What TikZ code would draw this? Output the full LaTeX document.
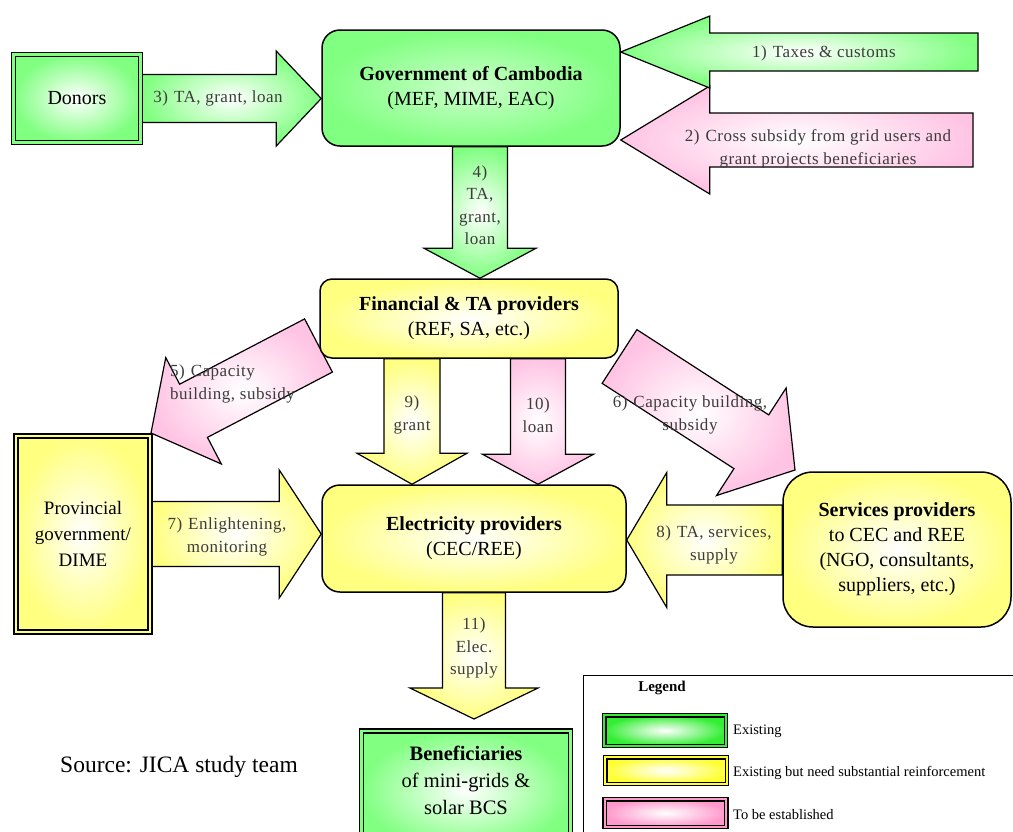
\documentclass[tikz,border=0pt]{standalone}
\usepackage{fontspec}
\setmainfont{Liberation Serif}
\usetikzlibrary{calc}

\definecolor{gEdge}{HTML}{80FF80}
\definecolor{yEdge}{HTML}{FFFF80}
\definecolor{pEdge}{HTML}{FFC4E4}
\definecolor{lgG}{HTML}{33EE33}
\definecolor{lgY}{HTML}{FFFF33}
\definecolor{lgP}{HTML}{FF99CC}
\definecolor{lblgray}{HTML}{3C3C3C}

\pgfdeclarelayer{bg}
\pgfsetlayers{bg,main}

% block arrow: #1 style, #2 tail centre, #3 tip, #4 half shaft width,
% #5 half head width, #6 head length
\newcommand\blockarrow[6]{%
  \coordinate (ba-h) at ($#3!#6!#2$);
  \path[#1] ($#2!#4!90:#3$) -- ($(ba-h)!#4!90:#3$) -- ($(ba-h)!#5!90:#3$)
    -- #3 -- ($(ba-h)!#5!-90:#3$) -- ($(ba-h)!#4!-90:#3$)
    -- ($#2!#4!-90:#3$) -- cycle;}

\begin{document}
\begin{tikzpicture}[x=1pt,y=-1pt,
  rbox/.style={draw=black, line width=1.5, align=center, inner sep=0,
    font=\fontsize{20}{25}\selectfont},
  dbox/.style={draw=black, line width=1.6, double distance=2.4, align=center,
    inner sep=0, font=\fontsize{20}{25}\selectfont},
  lbl/.style={align=center, inner sep=0, text=lblgray,
    font=\fontsize{17}{22.5}\selectfont\addfontfeature{LetterSpace=3}},
  garr/.style={draw=black, line width=1.2, inner color=white, outer color=gEdge},
  yarr/.style={draw=black, line width=1.2, inner color=white, outer color=yEdge},
  parr/.style={draw=black, line width=1.2, inner color=white, outer color=pEdge},
  sw/.style={draw=black, line width=1.3, double distance=2, minimum width=121.6,
    inner sep=0, inner color=white},
  lgtxt/.style={anchor=west, inner sep=0, font=\fontsize{14.5}{16}\selectfont}]

\useasboundingbox (0,0) rectangle (1013,831);

% ---- organisations ----
\node[rbox, rounded corners=18, minimum width=298, minimum height=116,
  inner color=gEdge!40!white, outer color=gEdge] (gov) at (471,88)
  {\textbf{Government of Cambodia}\\(MEF, MIME, EAC)};
\node[dbox, double=gEdge, minimum width=127, minimum height=88,
  inner color=white, outer color=gEdge] (donors) at (77,98.5) {Donors};
\node[rbox, rounded corners=12, minimum width=298, minimum height=79,
  inner color=white, outer color=yEdge] (fin) at (469,318.5)
  {\textbf{Financial \& TA providers}\\(REF, SA, etc.)};
\node[rbox, rounded corners=18, minimum width=304, minimum height=107,
  inner color=white, outer color=yEdge] (elec) at (474,538.5)
  {\textbf{Electricity providers}\\(CEC/REE)};
\node[rbox, rounded corners=30, minimum width=228, minimum height=155,
  inner color=white, outer color=yEdge] (serv) at (897,549.5)
  {\textbf{Services providers}\\to CEC and REE\\(NGO, consultants,\\suppliers, etc.)};
\node[dbox, double=yEdge, minimum width=134.5, minimum height=196.5,
  inner color=white, outer color=yEdge, font=\fontsize{19}{26}\selectfont]
  (prov) at (83,534) {Provincial\\government/\\DIME};
\node[dbox, double=gEdge, minimum width=209, minimum height=120,
  inner color=white, outer color=gEdge] (ben) at (466,790.75) {};
\node[align=center, inner sep=0, font=\fontsize{20.5}{27}\selectfont]
  (benT) at (466,780) {\textbf{Beneficiaries}\\of mini-grids \&\\solar BCS};

% ---- flows ----
\begin{pgfonlayer}{bg}
  \coordinate (a2s) at (973,140);
  \coordinate (a2e) at (gov.east |- a2s);
  \blockarrow{parr}{(a2s)}{(a2e)}{27pt}{54pt}{89pt}
  \coordinate (a1s) at (978,52);
  \coordinate (a1e) at (gov.east |- a1s);
  \blockarrow{garr}{(a1s)}{(a1e)}{19pt}{36pt}{89pt}
  \coordinate (a3e) at (gov.west |- donors.east);
  \blockarrow{garr}{(donors.east)}{(a3e)}{24pt}{47.5pt}{45pt}
  \coordinate (a4s) at ($(gov.south)+(9,0)$);
  \coordinate (a4e) at (a4s |- fin.north);
  \blockarrow{garr}{(a4s)}{(a4e)}{27.5pt}{56pt}{30pt}
  \coordinate (a5s) at (318.5,345.5);
  \coordinate (a5e) at (151,433);
  \blockarrow{parr}{(a5s)}{(a5e)}{30pt}{60pt}{48pt}
  \coordinate (a6s) at (619.5,356.5);
  \coordinate (a6e) at (795,470);
  \blockarrow{parr}{(a6s)}{(a6e)}{32pt}{64pt}{52pt}
  \coordinate (a9s) at ($(fin.south)+(-57,0)$);
  \coordinate (a9e) at (a9s |- elec.north);
  \blockarrow{yarr}{(a9s)}{(a9e)}{28pt}{55pt}{31pt}
  \coordinate (a10s) at ($(fin.south)+(69,0)$);
  \coordinate (a10e) at (a10s |- elec.north);
  \blockarrow{parr}{(a10s)}{(a10e)}{27.5pt}{55.5pt}{30pt}
  \coordinate (a7e) at (elec.west |- prov.east);
  \blockarrow{yarr}{(prov.east)}{(a7e)}{32.5pt}{64pt}{42pt}
  \coordinate (a8s) at ($(serv.west)+(0,-9.5)$);
  \coordinate (a8e) at (elec.east |- a8s);
  \blockarrow{yarr}{(a8s)}{(a8e)}{35pt}{67.5pt}{40pt}
  \coordinate (a11e) at (474,719);
  \blockarrow{yarr}{(elec.south)}{(a11e)}{31.5pt}{64pt}{31pt}
\end{pgfonlayer}

% ---- flow labels ----
\node[lbl] (l1) at (824,53) {1)\hspace{.35em}Taxes \& customs};
\node[lbl] (l2) at (818,149) {2)\hspace{.35em}Cross subsidy from grid users and\\grant projects beneficiaries};
\node[lbl] (l3) at (218,98) {3)\hspace{.35em}TA, grant, loan};
\node[lbl] (l4) at (480,205) {4)\\TA,\\grant,\\loan};
\node[lbl, align=left, anchor=west] (l5) at (170,384) {5)\hspace{.35em}Capacity\\building, subsidy};
\node[lbl] (l6) at (690,415) {6)\hspace{.35em}Capacity building,\\subsidy};
\node[lbl] (l7) at (227,537) {7)\hspace{.35em}Enlightening,\\monitoring};
\node[lbl] (l8) at (714,545) {8)\hspace{.35em}TA, services,\\supply};
\node[lbl] (l9) at (412,415) {9)\\grant};
\node[lbl] (l10) at (538,415) {10)\\loan};
\node[lbl] (l11) at (474,648) {11)\\Elec.\\supply};

% ---- source ----
\node[anchor=west, inner sep=0, font=\fontsize{23.5}{28}\selectfont]
  (src) at (60,767) {Source: JICA study team};

% ---- legend ----
\node[draw, line width=1, minimum width=440, minimum height=170,
  anchor=north west, inner sep=0] (legend) at (583,675) {};
\node[inner sep=0, font=\fontsize{15}{18}\selectfont\bfseries] (legT) at (662,688) {Legend};
\node[sw, double=lgG, outer color=lgG, minimum height=30.6] (swg) at (665,730.5) {};
\node[sw, double=lgY, outer color=lgY, minimum height=26.6] (swy) at (666,770.5) {};
\node[sw, double=lgP, outer color=lgP, minimum height=27.6] (swp) at (665.5,813) {};
\node[lgtxt] (txg) at (733,731) {Existing};
\node[lgtxt] (txy) at (733,773) {Existing but need substantial reinforcement};
\node[lgtxt] (txp) at (733,815) {To be established};

\end{tikzpicture}
\end{document}
